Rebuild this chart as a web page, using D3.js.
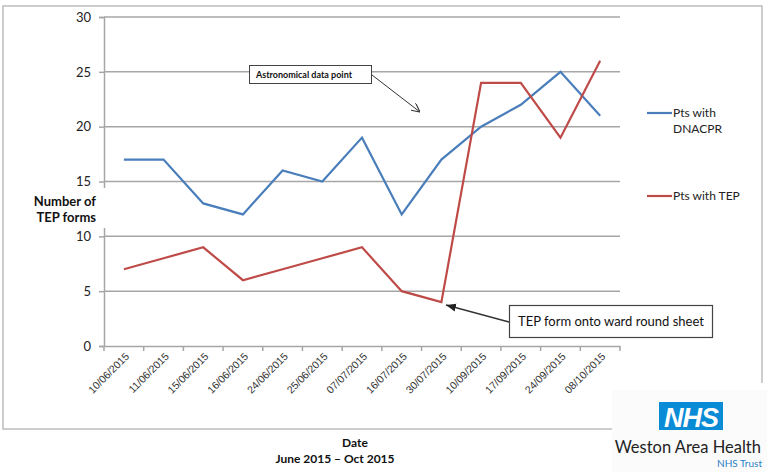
<!DOCTYPE html>
<html><head><meta charset="utf-8">
<script src="https://cdn.jsdelivr.net/npm/d3@7"></script>
<style>body{margin:0;background:#fff;}svg{display:block;font-family:Lato,"Open Sans",sans-serif;}</style>
</head><body>
<svg id="c" width="767" height="472"></svg>
<script>
const categories = ["10/06/2015","11/06/2015","15/06/2015","16/06/2015","24/06/2015","25/06/2015","07/07/2015","16/07/2015","30/07/2015","10/09/2015","17/09/2015","24/09/2015","08/10/2015"];
const dnacpr = [17,17,13,12,16,15,19,12,17,20,22,25,21];
const tep = [7,8,9,6,7,8,9,5,4,24,24,19,26];
const yTicks = [0,5,10,15,20,25,30];
const seriesNames = ["Pts with DNACPR","Pts with TEP"];

(function(){
const svg = d3.select("#c");
const pl = 104, pr = 620, pt = 17, pb = 346;
const x = d3.scaleBand().domain(categories).range([pl, pr]);
const y = d3.scaleLinear().domain([0, 30]).range([pb, pt]);

// outer frame
svg.append("path").attr("d","M612,429 L3,429 L3,6 L762,6 L762,383")
  .attr("fill","none").attr("stroke","#bdbdbd").attr("stroke-width",1.5);

// gridlines
svg.append("g").selectAll("line").data(yTicks.filter(d=>d>0)).join("line")
  .attr("x1",pl).attr("x2",pr).attr("y1",d=>y(d)).attr("y2",d=>y(d))
  .attr("stroke","#a6a6a6").attr("stroke-width",1.5);

// y axis
const ya = svg.append("g").attr("transform",`translate(${pl},0)`)
  .call(d3.axisLeft(y).tickValues(yTicks).tickSize(5).tickPadding(8));
ya.select(".domain").attr("stroke","#a6a6a6").attr("stroke-width",1.5);
ya.selectAll(".tick line").attr("stroke","#a6a6a6").attr("stroke-width",1.5);
ya.selectAll("text").attr("font-size",13).attr("fill","#222").attr("font-family","Lato,sans-serif");

// x axis
const xa = svg.append("g").attr("transform",`translate(0,${pb})`)
  .call(d3.axisBottom(x).tickSize(0).tickSizeOuter(0));
xa.select(".domain").attr("stroke","#a6a6a6").attr("stroke-width",1.5);
xa.selectAll(".tick line").remove();
svg.append("g").selectAll("line").data(categories.map(c=>x(c)).concat([pr])).join("line")
  .attr("x1",d=>d).attr("x2",d=>d).attr("y1",pb).attr("y2",pb+5)
  .attr("stroke","#a6a6a6").attr("stroke-width",1.5);
xa.selectAll(".tick text")
  .attr("font-size",10.5).attr("fill","#333").attr("text-anchor","end")
  .attr("dy",0).attr("y",0)
  .attr("transform","translate(6,11) rotate(-45)");

// y axis label (with white background)
svg.append("rect").attr("x",34).attr("y",188).attr("width",74).attr("height",40).attr("fill","#fff");
const yl = svg.append("text").attr("font-size",13).attr("font-weight","bold").attr("fill","#111").attr("text-anchor","end");
yl.append("tspan").attr("x",96).attr("y",206).text("Number of");
yl.append("tspan").attr("x",96).attr("y",222).text("TEP forms");

// lines
const line = d3.line().x((d,i)=>x(categories[i])+x.bandwidth()/2).y(d=>y(d));
const colors = ["#4a7ebb","#be4b48"];
[dnacpr, tep].forEach((s,i)=>{
  svg.append("path").datum(s).attr("d",line).attr("fill","none")
    .attr("stroke",colors[i]).attr("stroke-width",2.2).attr("stroke-linejoin","miter");
});

// legend
const lg = svg.append("g");
lg.append("line").attr("x1",647).attr("x2",672).attr("y1",113).attr("y2",113).attr("stroke",colors[0]).attr("stroke-width",2.2);
const t1 = lg.append("text").attr("font-size",12).attr("fill","#222");
t1.append("tspan").attr("x",673).attr("y",117).text("Pts with");
t1.append("tspan").attr("x",673).attr("y",133).text("DNACPR");
lg.append("line").attr("x1",647).attr("x2",672).attr("y1",196).attr("y2",196).attr("stroke",colors[1]).attr("stroke-width",2.2);
lg.append("text").attr("font-size",12).attr("fill","#222").attr("x",673).attr("y",200).text("Pts with TEP");

// arrow markers
const defs = svg.append("defs");
defs.append("marker").attr("id","arr").attr("viewBox","0 0 10 10").attr("refX",10).attr("refY",5)
  .attr("markerWidth",9).attr("markerHeight",9).attr("orient","auto").attr("markerUnits","userSpaceOnUse")
  .append("path").attr("d","M0,0 L10,5 L0,10").attr("fill","none").attr("stroke","#333").attr("stroke-width",1.2);
defs.append("marker").attr("id","arr2").attr("viewBox","0 0 10 10").attr("refX",10).attr("refY",5)
  .attr("markerWidth",10).attr("markerHeight",10).attr("orient","auto").attr("markerUnits","userSpaceOnUse")
  .append("path").attr("d","M0,1 L10,5 L0,9 Z").attr("fill","#222");

// annotation 1
svg.append("line").attr("x1",372).attr("y1",75).attr("x2",420).attr("y2",112)
  .attr("stroke","#333").attr("stroke-width",1).attr("marker-end","url(#arr)");
svg.append("rect").attr("x",249.5).attr("y",65.5).attr("width",122).attr("height",18)
  .attr("fill","#fff").attr("stroke","#444").attr("stroke-width",1);
svg.append("text").attr("x",256).attr("y",78).attr("font-size",9).attr("font-weight","bold").attr("fill","#111")
  .text("Astronomical data point");

// annotation 2
svg.append("line").attr("x1",509).attr("y1",322).attr("x2",446).attr("y2",305)
  .attr("stroke","#333").attr("stroke-width",1.3).attr("marker-end","url(#arr2)");
svg.append("rect").attr("x",509.5).attr("y",305.5).attr("width",203).attr("height",32)
  .attr("fill","#fff").attr("stroke","#444").attr("stroke-width",1.2);
svg.append("text").attr("x",518).attr("y",326).attr("font-size",13).attr("fill","#111")
  .text("TEP form onto ward round sheet");

// x axis title
svg.append("text").attr("x",355).attr("y",447).attr("text-anchor","middle").attr("font-size",12).attr("font-weight","bold").attr("fill","#111").text("Date");
svg.append("text").attr("x",335).attr("y",463).attr("text-anchor","middle").attr("font-size",12).attr("font-weight","bold").attr("fill","#111").text("June 2015 \u2013 Oct 2015");

// NHS logo block
svg.append("rect").attr("x",612).attr("y",390).attr("width",155).attr("height",82).attr("fill","#fbfbfb");
svg.append("rect").attr("x",659).attr("y",402).attr("width",64).attr("height",28).attr("fill","#0a8bd6");
svg.append("text").attr("x",691).attr("y",427).attr("text-anchor","middle").attr("font-size",27).attr("font-weight","900")
  .attr("font-style","italic").attr("fill","#fff").attr("font-family","Liberation Sans,Arial,sans-serif").attr("letter-spacing",-1).text("NHS");
svg.append("text").attr("x",761).attr("y",453).attr("text-anchor","end").attr("font-size",16.5).attr("fill","#222").text("Weston Area Health");
svg.append("text").attr("x",762).attr("y",467).attr("text-anchor","end").attr("font-size",10).attr("fill","#2a7fc4").text("NHS Trust");
})();
</script>
</body></html>
